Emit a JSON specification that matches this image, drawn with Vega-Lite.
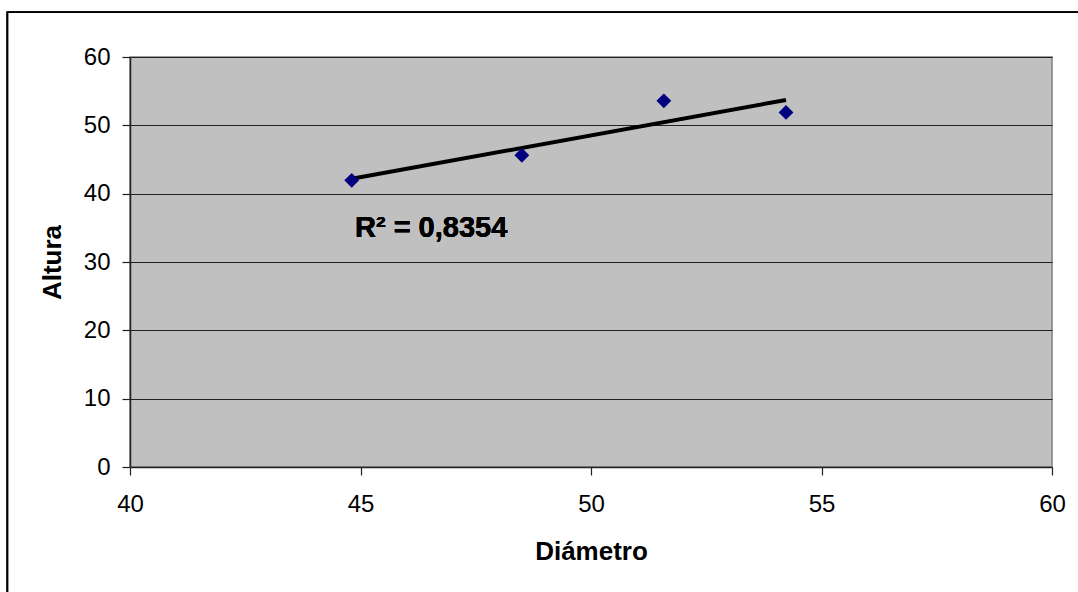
{
  "$schema": "https://vega.github.io/schema/vega-lite/v6.json",
  "width": 922,
  "height": 410,
  "autosize": {"type": "none"},
  "padding": {"left": 130, "top": 57, "right": 26, "bottom": 125},
  "background": "white",
  "config": {
    "view": {"fill": "#C0C0C0", "stroke": "#808080", "strokeWidth": 1.5},
    "font": "Liberation Sans",
    "axis": {
      "labelFont": "Liberation Sans",
      "titleFont": "Liberation Sans",
      "labelFontSize": 24,
      "labelColor": "black",
      "labelFlush": false,
      "labelOverlap": false,
      "titleFontSize": 26,
      "titleFontWeight": "bold",
      "titleColor": "black",
      "domainColor": "#222222",
      "domainWidth": 1.5,
      "tickColor": "#222222",
      "tickSize": 8,
      "tickWidth": 1.2
    }
  },
  "data": {
    "values": [
      {"Diametro": 44.81, "Altura": 41.95},
      {"Diametro": 48.50, "Altura": 45.62},
      {"Diametro": 51.58, "Altura": 53.59},
      {"Diametro": 54.23, "Altura": 51.89}
    ]
  },
  "layer": [
    {
      "mark": {"type": "rect", "fill": null, "filled": false, "stroke": "black", "strokeWidth": 1.5, "clip": false},
      "encoding": {
        "x": {"datum": 37.34, "type": "quantitative"},
        "x2": {"datum": 64},
        "y": {"datum": 66.54, "type": "quantitative"},
        "y2": {"datum": -30}
      }
    },
    {
      "transform": [{"regression": "Altura", "on": "Diametro"}],
      "mark": {"type": "line", "color": "black", "strokeWidth": 4},
      "encoding": {
        "x": {"field": "Diametro", "type": "quantitative"},
        "y": {"field": "Altura", "type": "quantitative"}
      }
    },
    {
      "mark": {"type": "point", "shape": "diamond", "filled": true, "color": "#000080", "size": 220, "opacity": 1},
      "encoding": {
        "x": {
          "field": "Diametro",
          "type": "quantitative",
          "scale": {"domain": [40, 60], "nice": false, "zero": false},
          "axis": {"title": "Diámetro", "values": [40, 45, 50, 55, 60], "grid": false, "labelPadding": 17, "titlePadding": 22}
        },
        "y": {
          "field": "Altura",
          "type": "quantitative",
          "scale": {"domain": [0, 60], "nice": false},
          "axis": {"title": "Altura", "values": [0, 10, 20, 30, 40, 50, 60], "grid": true, "gridColor": "#222222", "gridWidth": 1.2, "gridOpacity": 1, "labelPadding": 12, "titlePadding": 18}
        }
      }
    },
    {
      "mark": {"type": "text", "text": "R² = 0,8354", "font": "Liberation Sans", "fontSize": 29, "fontWeight": "bold", "align": "left", "baseline": "alphabetic", "color": "black"},
      "encoding": {
        "x": {"datum": 44.88, "type": "quantitative"},
        "y": {"datum": 33.6, "type": "quantitative"}
      }
    }
  ]
}
